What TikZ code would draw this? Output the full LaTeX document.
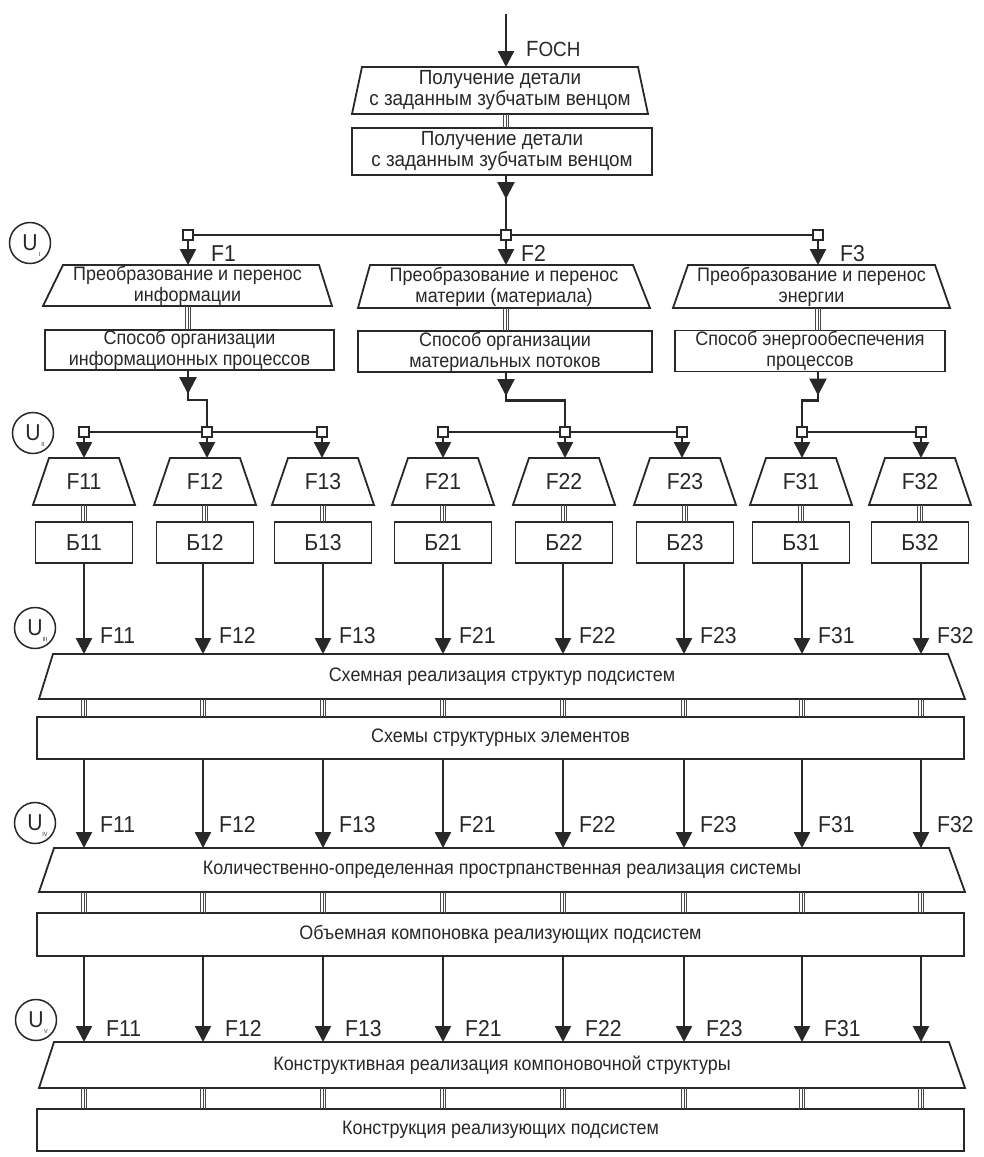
\documentclass[tikz,border=0pt]{standalone}
\usepackage{fontspec}
\setmainfont{Liberation Sans}[FakeStretch=0.92]
\usetikzlibrary{arrows.meta,decorations.markings}
\definecolor{ink}{RGB}{40,40,40}
\tikzset{
  every node/.style={text=ink},
  ln/.style={draw=ink, line width=1.8pt, line join=miter},
  conn/.style={draw=ink, line width=2.4pt},
  arr/.style={conn, -{Triangle[length=16pt,width=16pt]}},
  midtip/.style={postaction={decorate}, decoration={markings, mark=at position 24pt with {\arrow{Triangle[length=17pt,width=17pt]}}}},
  tl/.style={draw=ink!85, line width=0.7pt},
  boxn/.style={draw=ink, line width=1.8pt, fill=white, align=center, inner sep=0pt, outer sep=0pt, font=\fontsize{19.5}{21}\selectfont},
  trapn/.style={align=center, inner sep=0pt, outer sep=0pt, font=\fontsize{19.5}{21}\selectfont},
  flab/.style={anchor=base west, inner sep=0pt, font=\fontsize{23}{23}\selectfont},
  sq/.style={draw=ink, line width=1.4pt, fill=white, minimum size=10pt, inner sep=0pt, outer sep=0pt},
  ucirc/.style={draw=ink, line width=1.5pt, circle, minimum size=41pt, inner sep=0pt, font=\fontsize{23}{23}\selectfont},
  usub/.style={inner sep=0pt, font=\fontsize{6}{6}\selectfont},
}
\newcommand\bigf{\fontsize{23}{23}\selectfont}
\newcommand\topf{\fontsize{20.5}{21}\selectfont}
\newcommand\trip[2]{%
  \draw[tl,transform canvas={xshift=-2.6pt}] #1 -- #2;
  \draw[tl] #1 -- #2;
  \draw[tl,transform canvas={xshift=2.6pt}] #1 -- #2;}
\newcommand\trapz[8]{%
  \node[trapn, minimum width=#4pt, minimum height=#5pt] (#1) at (#2,#3) {#8};
  \draw[ln] ([xshift=#6pt]#1.north west) -- ([xshift=-#7pt]#1.north east) -- (#1.south east) -- (#1.south west) -- cycle;}
\begin{document}
\begin{tikzpicture}[x=1pt,y=-1pt]
\fill[white] (0,0) rectangle (983,1157);
\useasboundingbox (0,0) rectangle (983,1157);

% columns
\foreach \n/\x in {1/84,2/203,3/323,4/443,5/563,6/684,7/802,8/921}{\coordinate (k\n) at (\x,0);}
\coordinate (c0) at (506,0);

% top
\coordinate (src) at (506,14);
\trapz{T0}{500}{90.5}{296}{47}{10}{10}{\topf Получение детали\\\topf с заданным зубчатым венцом}
\node[boxn, minimum width=300pt, minimum height=47pt, font=\topf] (B0) at (502,151.5) {Получение детали\\с заданным зубчатым венцом};
\draw[arr] (src) -- (c0 |- T0.north);
\node[flab] (fosn) at (526,56) {{\fontsize{22}{22}\selectfont F}{\fontsize{20.5}{20.5}\selectfont ОСН}};
\trip{(c0 |- T0.south)}{(c0 |- B0.north)}

% level I
\node[sq] (q1) at (188,235) {};
\node[sq] (q2) at (506,235) {};
\node[sq] (q3) at (818,235) {};
\draw[ln] (q1.east) -- (q2.west);
\draw[ln] (q2.east) -- (q3.west);
\draw[conn, midtip] (c0 |- B0.south) -- (q2.north);

\trapz{T1}{187.5}{285.5}{289}{41}{20}{13}{Преобразование и перенос\\информации}
\trapz{T2}{504}{286.5}{292}{43}{12}{17}{Преобразование и перенос\\материи (материала)}
\trapz{T3}{811.5}{286.5}{277}{43}{15}{15}{Преобразование и перенос\\энергии}
\draw[arr] (q1.south) -- (q1 |- T1.north);
\draw[arr] (q2.south) -- (q2 |- T2.north);
\draw[arr] (q3.south) -- (q3 |- T3.north);
\node[flab] (lF1) at (211,261) {F1};
\node[flab] (lF2) at (521,261) {F2};
\node[flab] (lF3) at (840,261) {F3};

\node[boxn, minimum width=289pt, minimum height=40pt] (B1) at (189.5,350) {Способ организации\\информационных процессов};
\node[boxn, minimum width=294pt, minimum height=41pt] (B2) at (505,351.5) {Способ организации\\материальных потоков};
\node[boxn, minimum width=270pt, minimum height=41pt] (B3) at (810,351) {Способ энергообеспечения\\процессов};
\trip{(q1 |- T1.south)}{(q1 |- B1.north)}
\trip{(q2 |- T2.south)}{(q2 |- B2.north)}
\trip{(q3 |- T3.south)}{(q3 |- B3.north)}

% level II
\node[sq] (q11) at (84,432) {};
\node[sq] (q12) at (207,432) {};
\node[sq] (q13) at (322,432) {};
\node[sq] (q21) at (443,432) {};
\node[sq] (q22) at (565,432) {};
\node[sq] (q23) at (682,432) {};
\node[sq] (q31) at (802,432) {};
\node[sq] (q32) at (921,432) {};
\draw[ln] (q11.east) -- (q12.west);
\draw[ln] (q12.east) -- (q13.west);
\draw[ln] (q21.east) -- (q22.west);
\draw[ln] (q22.east) -- (q23.west);
\draw[ln] (q31.east) -- (q32.west);
\draw[conn, midtip] (q1 |- B1.south) -- ++(0,30) -| (q12.north);
\draw[conn, midtip] (q2 |- B2.south) -- ++(0,28.5) -| (q22.north);
\draw[conn, midtip] (q3 |- B3.south) -- ++(0,29) -| (q31.north);

\foreach \n/\x/\t in {1/84/11,2/205/12,3/323/13,4/443/21,5/564/22,6/685/23,7/801/31,8/920/32}{
  \trapz{S\n}{\x}{481.5}{102}{47}{16}{16}{\bigf F\t}
  \node[boxn, minimum width=97pt, minimum height=41pt, font=\bigf] (Bb\n) at (\x,542.5) {Б\t};
  \trip{(S\n.south)}{(Bb\n.north)}
}
\foreach \q/\n in {q11/1,q12/2,q13/3,q21/4,q22/5,q23/6,q31/7,q32/8}{
  \draw[arr] (\q.south) -- (\q |- S\n.north);
}

% level III
\trapz{BT1}{502}{676.5}{926}{45}{14}{17}{Схемная реализация структур подсистем}
\node[boxn, minimum width=927pt, minimum height=42pt] (BB1) at (500.5,738) {Схемы структурных элементов};
\foreach \n/\lab in {1/F11,2/F12,3/F13,4/F21,5/F22,6/F23,7/F31,8/F32}{
  \draw[arr] (k\n |- Bb\n.south) -- (k\n |- BT1.north);
  \node[flab] (lc\n) at ([xshift=16pt]k\n |- 0,643) {\lab};
  \trip{(k\n |- BT1.south)}{(k\n |- BB1.north)}
}

% level IV
\trapz{BT2}{502}{870}{926}{44}{15}{16}{Количественно-определенная прострпанственная реализация системы}
\node[boxn, minimum width=927pt, minimum height=43pt] (BB2) at (500.5,934.5) {Объемная компоновка реализующих подсистем};
\foreach \n/\lab in {1/F11,2/F12,3/F13,4/F21,5/F22,6/F23,7/F31,8/F32}{
  \draw[arr] (k\n |- BB1.south) -- (k\n |- BT2.north);
  \node[flab] (ld\n) at ([xshift=16pt]k\n |- 0,832) {\lab};
  \trip{(k\n |- BT2.south)}{(k\n |- BB2.north)}
}

% level V
\trapz{BT3}{502}{1065}{926}{46}{15}{16}{Конструктивная реализация компоновочной структуры}
\node[boxn, minimum width=927pt, minimum height=42pt] (BB3) at (500.5,1130) {Конструкция реализующих подсистем};
\foreach \n in {1,...,8}{
  \draw[arr] (k\n |- BB2.south) -- (k\n |- BT3.north);
  \trip{(k\n |- BT3.south)}{(k\n |- BB3.north)}
}
\foreach \n/\lab in {1/F11,2/F12,3/F13,4/F21,5/F22,6/F23,7/F31}{
  \node[flab] (le\n) at ([xshift=22pt]k\n |- 0,1036) {\lab};
}

% level circles
\foreach \n/\x/\y/\s in {1/30/243/I,2/33/433/II,3/35/628/III,4/35/823/IV,5/36/1020/V}{
  \node[ucirc] (U\n) at (\x,\y) {U};
  \node[usub] (Us\n) at ([xshift=10pt,yshift=-11pt]U\n.center) {\s};
}
\end{tikzpicture}
\end{document}
